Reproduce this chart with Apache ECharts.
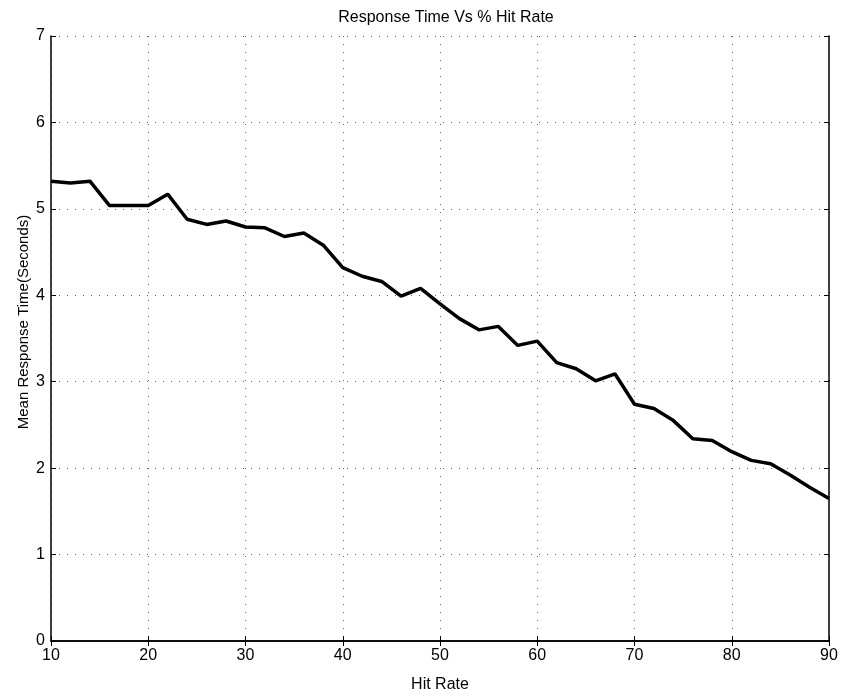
<!DOCTYPE html>
<html><head><meta charset="utf-8">
<script src="https://cdn.jsdelivr.net/npm/echarts@6/dist/echarts.min.js"></script>
<style>html,body{margin:0;padding:0;background:#fff}#c{width:841px;height:698px}</style>
</head><body><div id="c"></div>
<script>
const hitRate = [10,12,14,16,18,20,22,24,26,28,30,32,34,36,38,40,42,44,46,48,50,52,54,56,58,60,62,64,66,68,70,72,74,76,78,80,82,84,86,88,90];
const responseTime = [5.32,5.30,5.32,5.04,5.04,5.04,5.17,4.88,4.82,4.86,4.79,4.78,4.68,4.72,4.58,4.32,4.22,4.16,3.99,4.08,3.90,3.73,3.60,3.64,3.42,3.47,3.22,3.15,3.01,3.09,2.74,2.69,2.55,2.34,2.32,2.19,2.09,2.05,1.92,1.78,1.65];
const titleText = 'Response Time Vs % Hit Rate';
const xName = 'Hit Rate';
const yName = 'Mean Response Time(Seconds)';

const chart = echarts.init(document.getElementById('c'), null, {renderer:'canvas'});
const font = 'Liberation Sans, Arial, sans-serif';
const axisLineS = {show:true, lineStyle:{color:'#000', width:1.5}};
const tickS = {show:true, inside:true, length:5, lineStyle:{color:'#000', width:1}};
const gridS = {show:true, lineStyle:{color:'#666', type:[1,7], width:1}};
chart.setOption({
  animation:false,
  backgroundColor:'#fff',
  title:{text:titleText, left:441, top:5, textAlign:'center', textStyle:{fontFamily:font, fontSize:16, fontWeight:'normal', color:'#000'}},
  grid:{left:51, right:12, top:36, bottom:50, containLabel:false},
  graphic:[{type:'text', x:24, y:322, rotation:Math.PI/2,
    style:{text:yName, align:'center', verticalAlign:'middle', font:'15px Liberation Sans, Arial, sans-serif', fill:'#000'}}],
  xAxis:[
    {type:'value', min:10, max:90, interval:10, position:'bottom',
     name:xName, nameLocation:'middle', nameGap:36, nameTextStyle:{fontFamily:font, fontSize:16, color:'#000'},
     axisLine:axisLineS, axisTick:tickS, splitLine:gridS,
     axisLabel:{fontFamily:font, fontSize:16, color:'#000', margin:7}},
    {type:'value', min:10, max:90, interval:10, position:'top',
     axisLine:axisLineS, axisTick:tickS, splitLine:{show:false}, axisLabel:{show:false}}
  ],
  yAxis:[
    {type:'value', min:0, max:7, interval:1, position:'left',
     axisLine:axisLineS, axisTick:tickS, splitLine:gridS,
     axisLabel:{fontFamily:font, fontSize:16, color:'#000', margin:6}},
    {type:'value', min:0, max:7, interval:1, position:'right',
     axisLine:axisLineS, axisTick:tickS, splitLine:{show:false}, axisLabel:{show:false}}
  ],
  series:[{
    type:'line', xAxisIndex:0, yAxisIndex:0,
    data: hitRate.map((x,i)=>[x, responseTime[i]]),
    showSymbol:false, symbol:'none',
    lineStyle:{color:'#000', width:3.5}
  }]
});
</script></body></html>
